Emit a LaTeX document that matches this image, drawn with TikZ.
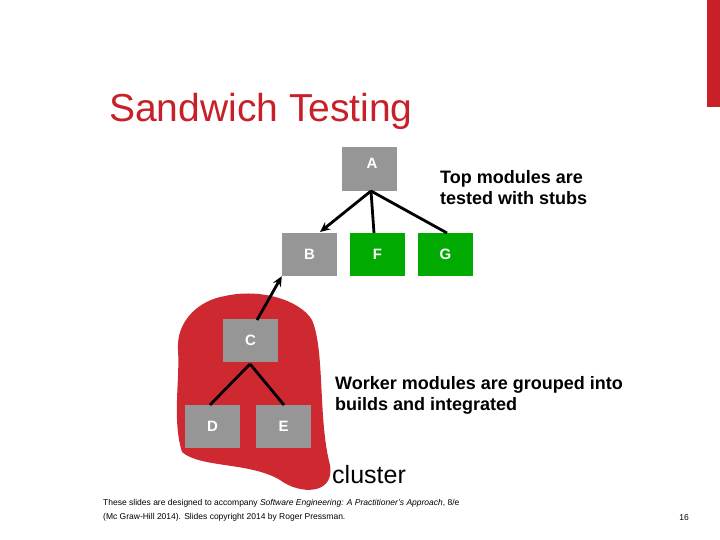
\documentclass[tikz,border=0pt]{standalone}
\usepackage{fontspec}
\setmainfont{Liberation Sans}
\usetikzlibrary{arrows.meta}
\definecolor{sred}{RGB}{200,32,40}
\definecolor{bred}{RGB}{206,40,48}
\definecolor{mgray}{RGB}{150,150,150}
\definecolor{mgreen}{RGB}{0,170,0}
\begin{document}
\begin{tikzpicture}[x=1pt,y=-1pt,
  mod/.style={minimum width=55pt,minimum height=43pt,inner sep=0pt,text=white,font=\fontsize{15}{17}\selectfont\bfseries},
  gm/.style={mod,fill=mgray},
  grm/.style={mod,fill=mgreen},
  ln/.style={line width=2.8pt,black},
  arr/.style={ln,-{Stealth[length=10pt,width=9pt]}},
  lbl/.style={font=\fontsize{18}{21}\selectfont\bfseries,align=left,anchor=north west,inner sep=0pt}]
\useasboundingbox (0,0) rectangle (720,540);
\fill[sred] (707,0) rectangle (720,107);
\node[anchor=west,text=sred,font=\fontsize{39}{42}\selectfont,inner sep=0pt] (title) at (109,111) {Sandwich Testing};
\fill[bred] (225,296) .. controls (260,288) and (300,300) .. (312,320)
  .. controls (325,350) and (318,420) .. (330,465)
  .. controls (335,495) and (300,495) .. (280,480)
  .. controls (250,462) and (200,468) .. (182,452)
  .. controls (172,420) and (180,380) .. (178,350)
  .. controls (176,320) and (200,300) .. (225,296) -- cycle;
\node[gm,minimum height=44pt] (A) at (369.5,169) {};
\node[font=\fontsize{15}{17}\selectfont\bfseries,text=white] (Al) at (372,163) {A};
\node[gm] (B) at (309.5,254.5) {B};
\node[grm] (F) at (377.5,254.5) {F};
\node[grm] (G) at (445.5,254.5) {G};
\node[gm] (C) at (250.5,340.5) {C};
\node[gm] (D) at (212.5,426) {D};
\node[gm] (E) at (283.5,426) {E};
\coordinate (Ab) at (371,191);
\coordinate (Cb) at (250,364);
\draw[arr] (Ab) -- (320,232);
\draw[ln] (Ab) -- (374,233);
\draw[ln] (Ab) -- (447,233);
\draw[arr] (257,320) -- (B.south west);
\draw[ln] (Cb) -- (210,405);
\draw[ln] (Cb) -- (284,405);
\node[lbl] (t1) at (440,170) {Top modules are\\tested with stubs};
\node[lbl] (t2) at (335,376) {Worker modules are grouped into\\builds and integrated};
\node[anchor=west,font=\fontsize{25}{27}\selectfont,inner sep=0pt] (cl) at (332,475) {cluster};
\node[anchor=north west,align=left,inner sep=0pt,font=\fontsize{8.5}{14}\selectfont] (foot) at (103,499) {These slides are designed to accompany \textit{Software Engineering: A Practitioner's Approach}, 8/e\\(Mc Graw-Hill 2014). Slides copyright 2014 by Roger Pressman.};
\node[font=\fontsize{8.5}{10}\selectfont,inner sep=0pt] (pg) at (684,518) {16};
\end{tikzpicture}
\end{document}
